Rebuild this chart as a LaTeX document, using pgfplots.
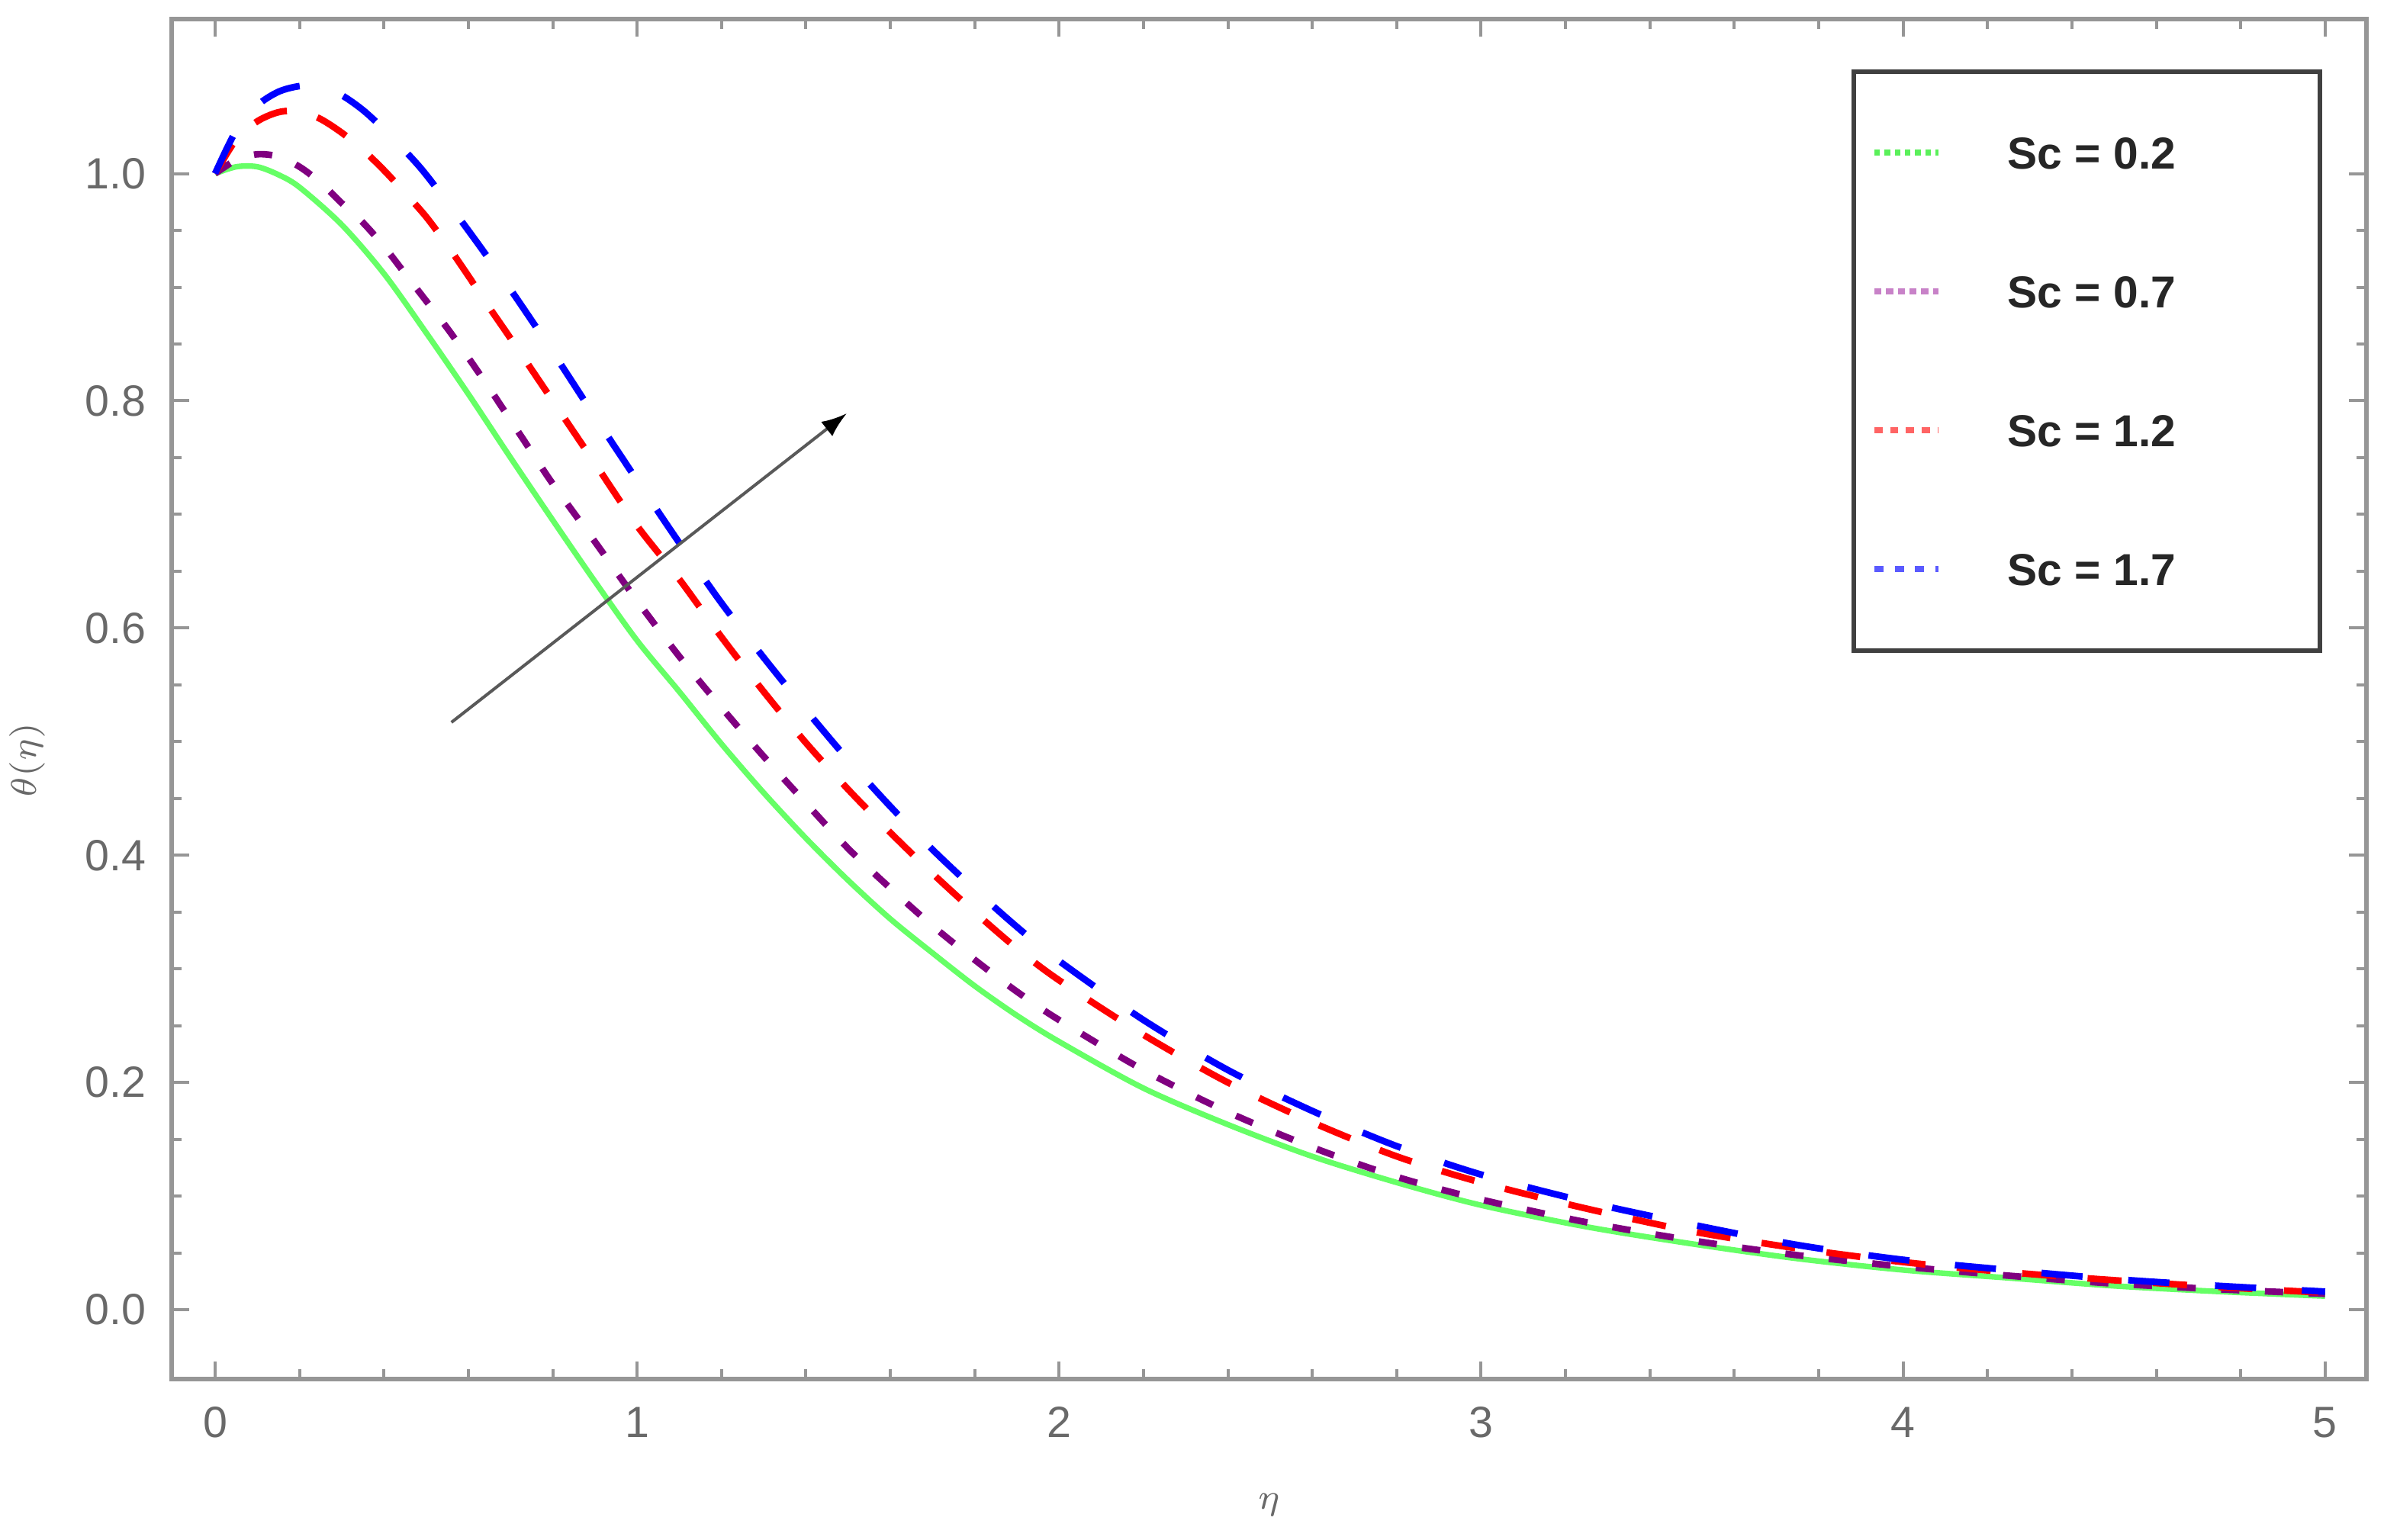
\documentclass[border=0pt]{standalone}
\usepackage{fontspec}
\setmainfont{Liberation Sans}
\usepackage{pgfplots}
\pgfplotsset{compat=1.18}
\usetikzlibrary{arrows.meta}
\definecolor{cgreen}{RGB}{102,255,102}
\definecolor{cpurple}{RGB}{128,0,128}
\definecolor{cred}{RGB}{255,0,0}
\definecolor{cblue}{RGB}{0,0,255}
\definecolor{lgreen}{RGB}{90,240,90}
\definecolor{lpurple}{RGB}{200,130,200}
\definecolor{lred}{RGB}{255,100,100}
\definecolor{lblue}{RGB}{90,90,255}
\definecolor{framegray}{RGB}{150,150,150}
\definecolor{ticklab}{RGB}{105,105,105}

\pgfplotstableread{
x y
0 1.000
0.05 1.006
0.10 1.006
0.15 0.999
0.20 0.988
0.30 0.955
0.40 0.912
0.50 0.860
0.60 0.806
0.70 0.750
0.80 0.695
0.90 0.641
1.00 0.589
1.10 0.544
1.20 0.498
1.30 0.455
1.40 0.415
1.50 0.378
1.60 0.344
1.70 0.314
1.80 0.285
1.90 0.259
2.00 0.236
2.20 0.195
2.40 0.163
2.60 0.135
2.80 0.112
3.00 0.092
3.25 0.073
3.50 0.058
3.75 0.045
4.00 0.035
4.25 0.028
4.50 0.021
4.75 0.016
5.00 0.012
}\tgreen

\pgfplotstableread{
x y
0 1.000
0.05 1.012
0.10 1.017
0.15 1.015
0.20 1.006
0.25 0.992
0.30 0.974
0.35 0.957
0.40 0.936
0.45 0.912
0.50 0.888
0.55 0.864
0.60 0.838
0.65 0.811
0.70 0.783
0.75 0.755
0.80 0.727
0.90 0.676
1.00 0.624
1.10 0.575
1.20 0.530
1.30 0.487
1.40 0.446
1.50 0.406
1.60 0.371
1.70 0.338
1.80 0.308
1.90 0.280
2.00 0.255
2.20 0.211
2.40 0.174
2.60 0.143
2.80 0.117
3.00 0.097
3.25 0.077
3.50 0.061
3.75 0.048
4.00 0.038
4.25 0.030
4.50 0.023
4.75 0.018
5.00 0.014
}\tpurple

\pgfplotstableread{
x y
0 1.000
0.05 1.030
0.10 1.046
0.15 1.054
0.20 1.055
0.25 1.048
0.30 1.036
0.35 1.021
0.40 1.003
0.45 0.983
0.50 0.962
0.55 0.937
0.60 0.910
0.65 0.882
0.70 0.855
0.80 0.800
0.90 0.745
1.00 0.690
1.10 0.643
1.20 0.592
1.30 0.544
1.40 0.499
1.50 0.458
1.60 0.420
1.70 0.384
1.80 0.350
1.90 0.318
2.00 0.290
2.20 0.242
2.40 0.200
2.60 0.165
2.80 0.135
3.00 0.112
3.25 0.089
3.50 0.069
3.75 0.054
4.00 0.042
4.25 0.033
4.50 0.026
4.75 0.020
5.00 0.015
}\tred

\pgfplotstableread{
x y
0 1.000
0.05 1.038
0.10 1.060
0.15 1.072
0.20 1.077
0.25 1.077
0.30 1.069
0.35 1.056
0.40 1.039
0.45 1.020
0.50 0.999
0.60 0.950
0.70 0.898
0.80 0.843
0.90 0.786
1.00 0.730
1.10 0.675
1.20 0.622
1.30 0.574
1.40 0.528
1.50 0.484
1.60 0.443
1.70 0.405
1.80 0.370
1.90 0.337
2.00 0.307
2.20 0.255
2.40 0.211
2.60 0.175
2.80 0.144
3.00 0.119
3.25 0.095
3.50 0.075
3.75 0.057
4.00 0.044
4.25 0.035
4.50 0.027
4.75 0.021
5.00 0.016
}\tblue

\begin{document}
\begin{tikzpicture}
\useasboundingbox (-33.75pt,-31.5pt) rectangle (435.0pt,271.2pt);
\begin{axis}[
  at={(0pt,0pt)}, anchor=south west,
  scale only axis, width=431.55pt, height=267.45pt,
  xmin=-0.103, xmax=5.098, ymin=-0.061, ymax=1.136,
  xtick={0,1,2,3,4,5}, minor x tick num=4,
  ytick={0,0.2,0.4,0.6,0.8,1.0}, minor y tick num=3,
  yticklabel style={/pgf/number format/fixed, /pgf/number format/fixed zerofill, /pgf/number format/precision=1, xshift=-1.5pt},
  /pgf/number format/assume math mode=true,
  tick align=inside,
  major tick length=3.5pt, minor tick length=2pt,
  tick style={framegray, line width=0.6pt},
  axis line style={framegray, line width=0.9pt},
  ticklabel style={font=\fontsize{8.6}{10}\selectfont, text=ticklab},
  xticklabel style={yshift=-2pt},
  xlabel={$\eta$},
  xlabel style={at={(axis description cs:0.5,-0.0925)}, anchor=center, font=\fontsize{7.5}{9}\selectfont, text=ticklab},
  ylabel={$\theta(\eta)$},
  ylabel style={at={(axis description cs:-0.0657,0.455)}, anchor=center, font=\fontsize{7}{9}\selectfont, text=ticklab},
  legend cell align=left,
  legend image code/.code={\draw[#1] (0pt,0pt) -- (12.6pt,0pt);},
  legend style={at={(axis description cs:0.774,0.9146)}, anchor=north west,
    draw=none, fill=none, inner sep=0pt, row sep=20.8pt,
    font=\fontsize{8.8}{10}\selectfont\bfseries, text=black!85,
    nodes={inner sep=0pt, text height=6.5pt, text depth=0pt, anchor=west},
    /tikz/every odd column/.append style={column sep=13pt}},
]
\addlegendimage{lgreen, line width=1.2pt, dash pattern=on 1.1pt off 0.9pt}
\addlegendentry{Sc = 0.2}
\addlegendimage{lpurple, line width=1.2pt, dash pattern=on 1.4pt off 0.9pt}
\addlegendentry{Sc = 0.7}
\addlegendimage{lred, line width=1.2pt, dash pattern=on 1.6pt off 1.5pt}
\addlegendentry{Sc = 1.2}
\addlegendimage{lblue, line width=1.2pt, dash pattern=on 1.8pt off 2.2pt}
\addlegendentry{Sc = 1.7}

\addplot[cgreen, line width=1.1pt, smooth, forget plot] table[x=x,y=y] {\tgreen};
\addplot[cpurple, line width=1.3pt, smooth, dash pattern=on 3.6pt off 5pt, forget plot] table[x=x,y=y] {\tpurple};
\addplot[cred, line width=1.3pt, smooth, dash pattern=on 6.7pt off 6.2pt, forget plot] table[x=x,y=y] {\tred};
\addplot[cblue, line width=1.3pt, smooth, dash pattern=on 8.1pt off 9pt, forget plot] table[x=x,y=y] {\tblue};

\addplot[color=black!65, line width=0.6pt, -{Latex[length=5pt,width=3.6pt,black]}, forget plot] coordinates {(0.56,0.517) (1.497,0.789)};

\draw[line width=1pt, black!75] (axis description cs:0.7664,0.5356) rectangle (axis description cs:0.9788,0.9613);
\end{axis}
\end{tikzpicture}
\end{document}
